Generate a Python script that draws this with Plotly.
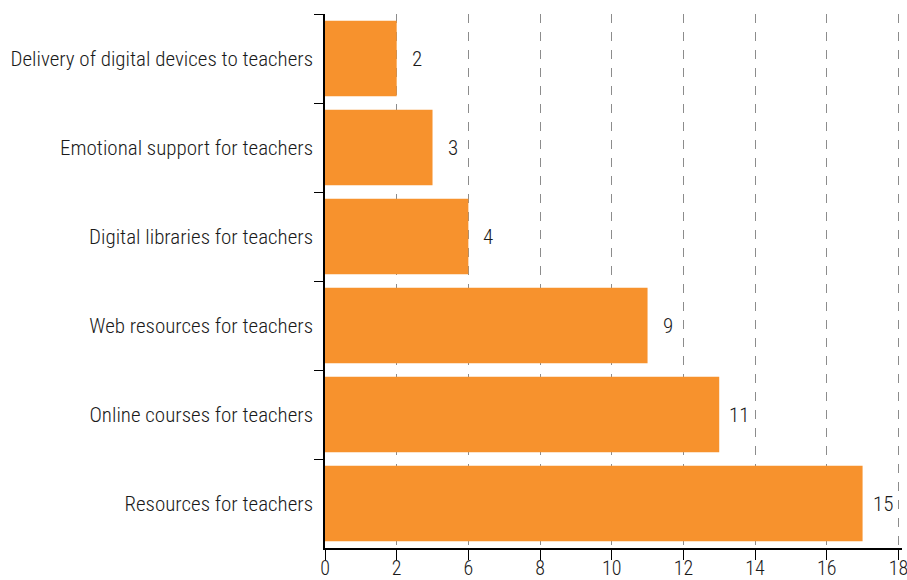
import plotly.graph_objects as go

categories = [
    "Delivery of digital devices to teachers",
    "Emotional support for teachers",
    "Digital libraries for teachers",
    "Web resources for teachers",
    "Online courses for teachers",
    "Resources for teachers",
]
values = [2, 3, 4, 9, 11, 15]
tick_vals = [0, 2, 4, 6, 8, 10, 12, 14, 16]
tick_text = ["0", "2", "6", "8", "10", "12", "14", "16", "18"]

FONT = "Liberation Sans Narrow, Roboto Condensed, Arial Narrow, sans-serif"
ORANGE = "#F7922D"
TXT = "#1a1a1a"

fig = go.Figure()
fig.add_trace(go.Bar(
    x=values, y=categories, orientation="h",
    marker=dict(color=ORANGE, line=dict(width=0)),
    hoverinfo="skip",
))

for v, c in zip(values, categories):
    fig.add_annotation(x=v, y=c, text=str(v), showarrow=False,
                       xanchor="center", xshift=20,
                       font=dict(family=FONT, size=21, color=TXT, weight=300))

fig.update_layout(
    width=907, height=580,
    margin=dict(l=325, r=5, t=14, b=32, autoexpand=False),
    plot_bgcolor="white", paper_bgcolor="white",
    bargap=0.15,
    showlegend=False,
    font=dict(family=FONT, size=21, color=TXT, weight=300),
    xaxis=dict(
        range=[0, 16.1], tickvals=tick_vals, ticktext=tick_text,
        showgrid=True, gridcolor="#8c8c8c", griddash="dash", gridwidth=1,
        showline=True, linecolor="black", linewidth=1.5,
        ticks="outside", ticklen=10, tickcolor="black",
        zeroline=False, fixedrange=True, automargin=False,
        ticklabeloverflow="allow", ticklabelstandoff=-9,
        tickfont=dict(family=FONT, size=20, color=TXT, weight=300),
    ),
    yaxis=dict(
        autorange="reversed", showgrid=False, automargin=False,
        showline=True, linecolor="black", linewidth=1.5,
        ticks="outside", tickson="boundaries", ticklen=9, tickcolor="black",
        ticklabelstandoff=6,
        tickfont=dict(family=FONT, size=21, color=TXT, weight=300),
    ),
)

fig.write_html("out.html")
